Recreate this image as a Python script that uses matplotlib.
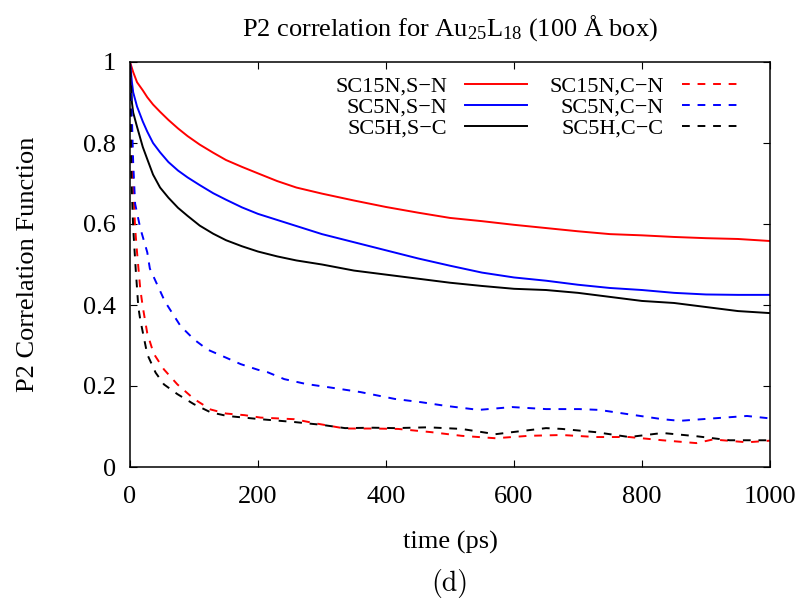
#Imported Packages
import matplotlib
matplotlib.use("Agg")
import matplotlib.pyplot as plt

###### DATA ######
# solid curves (bond vector correlation), time in ps
t_solid = [0, 3, 5, 11, 20, 27, 36, 47, 60, 75, 90, 109, 130, 150, 175, 200, 230, 260,
           300, 350, 400, 450, 500, 550, 600, 650, 700, 750, 800, 850, 900, 950, 1000]
sc15n_sn = [1.0, 0.985, 0.975, 0.95, 0.93, 0.913, 0.895, 0.877, 0.857, 0.836, 0.817, 0.796,
            0.776, 0.758, 0.741, 0.725, 0.706, 0.69, 0.675, 0.658, 0.642, 0.628, 0.615, 0.607,
            0.598, 0.59, 0.582, 0.575, 0.572, 0.568, 0.565, 0.563, 0.558]
sc5n_sn = [1.0, 0.95, 0.925, 0.89, 0.853, 0.828, 0.8, 0.777, 0.753, 0.732, 0.715, 0.696,
           0.676, 0.66, 0.641, 0.625, 0.61, 0.595, 0.575, 0.555, 0.535, 0.515, 0.497, 0.48,
           0.468, 0.46, 0.45, 0.442, 0.437, 0.43, 0.426, 0.425, 0.425]
sc5h_sc = [1.0, 0.9, 0.875, 0.84, 0.79, 0.76, 0.722, 0.69, 0.665, 0.64, 0.62, 0.596,
           0.576, 0.56, 0.545, 0.532, 0.52, 0.51, 0.5, 0.485, 0.475, 0.465, 0.455, 0.447,
           0.44, 0.437, 0.43, 0.42, 0.41, 0.405, 0.395, 0.385, 0.38]

# dashed curves
t_sc15n_cn = [0, 2, 5, 8, 11, 16, 20, 27, 37, 53, 74, 100, 126, 150, 179, 204, 231, 257,
              289, 336, 380, 419, 471, 518, 571, 623, 675, 728, 780, 832, 885, 911, 964, 1000]
sc15n_cn = [1.0, 0.8, 0.70, 0.59, 0.53, 0.44, 0.395, 0.33, 0.28, 0.241, 0.204, 0.168,
            0.142, 0.132, 0.128, 0.122, 0.12, 0.118, 0.108, 0.095, 0.095, 0.094, 0.086,
            0.077, 0.071, 0.077, 0.079, 0.074, 0.074, 0.066, 0.059, 0.068, 0.061, 0.065]

t_sc5n_cn = [0, 3, 5, 8, 16, 27, 31, 53, 58, 79, 100, 121, 150, 173, 200, 215, 241, 275,
             310, 360, 414, 455, 493, 545, 597, 650, 702, 733, 780, 832, 859, 911, 964, 1000]
sc5n_cn = [1.0, 0.86, 0.75, 0.65, 0.59, 0.53, 0.49, 0.414, 0.40, 0.348, 0.315, 0.29,
           0.27, 0.254, 0.24, 0.234, 0.217, 0.205, 0.197, 0.185, 0.168, 0.16, 0.151,
           0.141, 0.148, 0.143, 0.143, 0.141, 0.13, 0.118, 0.114, 0.12, 0.126, 0.12]

t_sc5h_cc = [0, 2, 5, 9, 13, 16, 27, 40, 53, 74, 100, 126, 152, 204, 257, 300, 336, 380,
             414, 466, 518, 571, 597, 650, 675, 728, 780, 832, 885, 937, 1000]
sc5h_cc = [1.0, 0.72, 0.59, 0.486, 0.395, 0.364, 0.278, 0.233, 0.204, 0.18, 0.155, 0.135,
           0.126, 0.118, 0.111, 0.104, 0.096, 0.097, 0.096, 0.098, 0.094, 0.081, 0.086,
           0.096, 0.094, 0.086, 0.074, 0.084, 0.076, 0.066, 0.066]

labels = ["SC15N,S\u2212N", "SC5N,S\u2212N", "SC5H,S\u2212C",
          "SC15N,C\u2212N", "SC5N,C\u2212N", "SC5H,C\u2212C"]
x_ticks = [0, 200, 400, 600, 800, 1000]
y_ticks = [0, 0.2, 0.4, 0.6, 0.8, 1]
##################

plt.rcParams['font.family'] = ['Liberation Serif', 'DejaVu Serif']
plt.rcParams['mathtext.fontset'] = 'custom'
plt.rcParams['mathtext.rm'] = 'Liberation Serif'
plt.rcParams['mathtext.it'] = 'Liberation Serif:italic'

fig = plt.figure(figsize=(8.04, 6.04), dpi=100)
ax = fig.add_axes([130/804, 1 - 467/604, 640/804, 405/604])

lw = 1.4
dash = (4, 4)
l1, = ax.plot(t_solid, sc15n_sn, color='#ff0000', lw=lw)
l2, = ax.plot(t_solid, sc5n_sn, color='#0000ff', lw=lw)
l3, = ax.plot(t_solid, sc5h_sc, color='black', lw=lw)
l4, = ax.plot(t_sc15n_cn, sc15n_cn, color='#ff0000', lw=lw, dashes=dash)
l5, = ax.plot(t_sc5n_cn, sc5n_cn, color='#0000ff', lw=lw, dashes=dash)
l6, = ax.plot(t_sc5h_cc, sc5h_cc, color='black', lw=lw, dashes=dash)

ax.set_xlim(0, 1000)
ax.set_ylim(0, 1)
ax.set_xticks(x_ticks)
ax.set_xticklabels([str(v) for v in x_ticks])
ax.set_yticks(y_ticks)
ax.set_yticklabels(["0", "0.2", "0.4", "0.6", "0.8", "1"])
ax.tick_params(direction='in', length=5, width=0.8, top=True, right=True,
               labelsize=19, pad=10)
ax.tick_params(axis='x', pad=14)
for s in ax.spines.values():
    s.set_linewidth(1.1)

ax.set_xlabel("time (ps)", fontsize=19, labelpad=16)
ax.set_ylabel("P2 Correlation Function", fontsize=19, labelpad=32)
ax.set_title("P2 correlation for Au$_{25}$L$_{18}$ (100 \u00c5 box)", fontsize=19, pad=19)

leg = ax.legend([l1, l2, l3, l4, l5, l6], labels, ncol=2, markerfirst=False,
                frameon=False, fontsize=16, loc='upper right',
                bbox_to_anchor=(614/640, 0.965), borderpad=0, borderaxespad=0,
                handlelength=2.8, handletextpad=0.8, columnspacing=1.0,
                labelspacing=0.02)

fig.text(450/804, 1 - 583/604, "(d)", fontsize=20, ha='center', va='center',
         family='cmr10')

fig.savefig("out.png", dpi=100)
